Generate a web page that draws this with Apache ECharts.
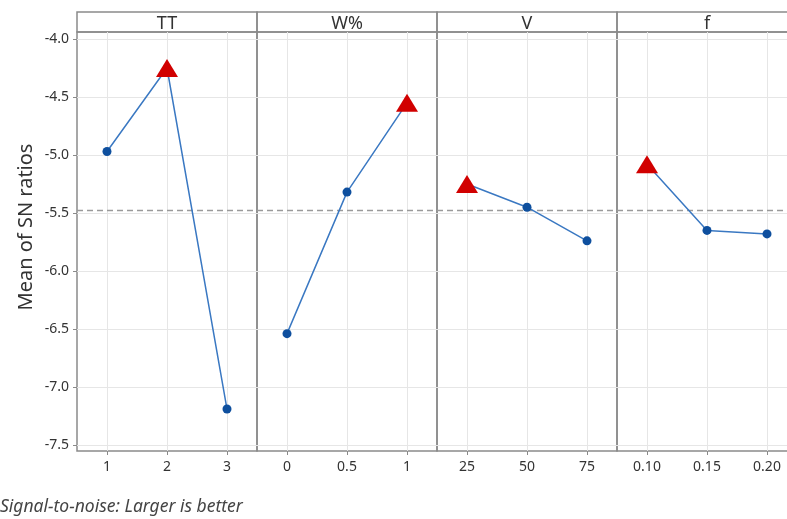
<!DOCTYPE html>
<html><head><meta charset="utf-8">
<script src="https://cdn.jsdelivr.net/npm/echarts@6/dist/echarts.min.js"></script>
<style>html,body{margin:0;padding:0;background:#fff}#c{width:787px;height:519px}</style>
</head><body><div id="c"></div><script>
// ---- data ----
const factors = ['TT', 'W%', 'V', 'f'];
const levelsTT = ['1', '2', '3'];
const levelsW = ['0', '0.5', '1'];
const levelsV = ['25', '50', '75'];
const levelsF = ['0.10', '0.15', '0.20'];
const meansTT = [-4.97, -4.25, -7.19];
const meansW = [-6.54, -5.32, -4.55];
const meansV = [-5.25, -5.45, -5.74];
const meansF = [-5.08, -5.65, -5.68];
const overallMean = -5.48;
const yMin = -7.5, yMax = -4.0, yStep = 0.5;
const yTitle = 'Mean of SN ratios';
const footnote = 'Signal-to-noise: Larger is better';

// ---- layout ----
const levels = [levelsTT, levelsW, levelsV, levelsF];
const means = [meansTT, meansW, meansV, meansF];
const PL = 77, PW = 180;
const HEAD_TOP = 12, HEAD_H = 20;
const FRAME_TOP = 32, FRAME_H = 419;
const DATA_TOP = 39, DATA_H = 406;
const FONT = 'Noto Sans';
const txt = '#333';
const frameColor = '#8a8a8a';
const gridColor = '#e6e6e6';

function place(i) {
  // the last panel runs past the window edge, as in the reference
  return {left: PL + PW * i, width: PW, outerBoundsMode: 'none', containLabel: false};
}

const grid = [], xAxis = [], yAxis = [], series = [], graphic = [];
const n = factors.length;
for (let i = 0; i < n; i++) {
  grid.push(Object.assign(place(i), {top: HEAD_TOP, height: HEAD_H, show: true,
    borderColor: frameColor, borderWidth: 1.5, backgroundColor: 'transparent'}));
  xAxis.push({gridIndex: i, type: 'value', show: false});
  yAxis.push({gridIndex: i, type: 'value', show: false});
}
for (let i = 0; i < n; i++) {
  grid.push(Object.assign(place(i), {top: FRAME_TOP, height: FRAME_H, show: true,
    borderColor: frameColor, borderWidth: 1.5, backgroundColor: 'transparent'}));
  xAxis.push({gridIndex: n + i, type: 'category', data: levels[i], boundaryGap: true,
    axisLine: {show: false}, axisTick: {show: false}, axisLabel: {show: false},
    splitLine: {show: true, alignWithLabel: true, lineStyle: {color: gridColor, width: 1}}});
  yAxis.push({gridIndex: n + i, type: 'value', min: 0, max: 1,
    axisLine: {show: false}, axisTick: {show: false}, axisLabel: {show: false}, splitLine: {show: false}});
}
for (let i = 0; i < n; i++) {
  grid.push(Object.assign(place(i), {top: DATA_TOP, height: DATA_H}));
  xAxis.push({gridIndex: 2 * n + i, type: 'category', data: levels[i], boundaryGap: true, offset: 6,
    axisLine: {show: false},
    axisTick: {show: true, alignWithLabel: true, length: 4, lineStyle: {color: frameColor, width: 1}},
    axisLabel: {margin: 9, fontFamily: FONT, fontSize: 14, color: txt},
    splitLine: {show: false}});
  yAxis.push({gridIndex: 2 * n + i, type: 'value', min: yMin, max: yMax, interval: yStep,
    axisLine: {show: false},
    axisTick: {show: i === 0, length: 4, lineStyle: {color: frameColor, width: 1}},
    axisLabel: {show: i === 0, margin: 8, fontFamily: FONT, fontSize: 14, color: txt,
      formatter: v => v.toFixed(1)},
    splitLine: {show: true, lineStyle: {color: gridColor, width: 1}}});
  const vals = means[i];
  const maxV = Math.max.apply(null, vals);
  series.push({
    type: 'line', xAxisIndex: 2 * n + i, yAxisIndex: 2 * n + i, z: 5,
    lineStyle: {color: '#3a78c2', width: 1.5},
    data: vals.map(v => v === maxV
      ? {value: v, symbol: 'triangle', symbolSize: [22, 18], itemStyle: {color: '#d10000'}}
      : {value: v, symbol: 'circle', symbolSize: 9, itemStyle: {color: '#0e4f9e'}}),
    markLine: {silent: true, symbol: ['none', 'none'], label: {show: false}, z: 3,
      lineStyle: {type: [6, 4], color: '#9a9a9a', width: 1.4},
      data: [{yAxis: overallMean}]}
  });
  graphic.push({type: 'text', x: PL + PW * (i + 0.5), y: HEAD_TOP + HEAD_H / 2 + 2,
    style: {text: factors[i], fill: txt, font: '18px "' + FONT + '"', textAlign: 'center', textVerticalAlign: 'middle'}});
}
graphic.push({type: 'text', x: 26, y: 227, rotation: Math.PI / 2,
  style: {text: yTitle, fill: txt, font: '20px "' + FONT + '"', textAlign: 'center', textVerticalAlign: 'middle'}});
graphic.push({type: 'text', x: 0, y: 507,
  style: {text: footnote, fill: '#444', font: 'italic 17.5px "' + FONT + '"', textAlign: 'left', textVerticalAlign: 'middle'}});

const chart = echarts.init(document.getElementById('c'), null, {renderer: 'canvas'});
chart.setOption({animation: false, backgroundColor: '#fff', grid, xAxis, yAxis, series, graphic});
</script></body></html>
